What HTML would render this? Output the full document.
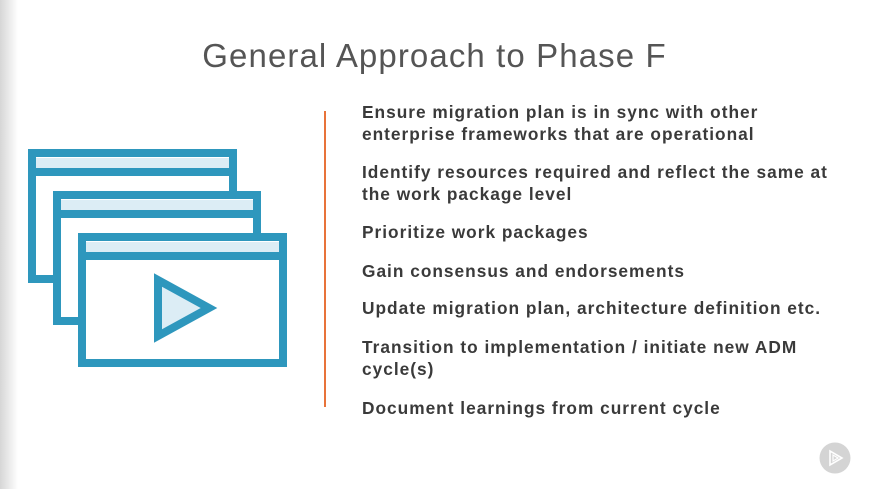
<!DOCTYPE html>
<html><head><style>
body{margin:0;width:869px;height:489px;overflow:hidden;background:#fff;font-family:"Liberation Sans",sans-serif;position:relative}
.sh{position:absolute;left:0;top:0;width:18px;height:489px;background:linear-gradient(to right,#d6d6d6,#fff)}
h1{position:absolute;left:0;width:869px;top:37px;margin:0;text-align:center;font-weight:normal;font-size:33px;color:#555;letter-spacing:1.1px}
.ln{position:absolute;left:324px;top:111px;width:2px;height:296px;background:#e8733a}
.t{position:absolute;left:362px;font-size:17.3px;font-weight:bold;color:#3a3a3a;line-height:22px;letter-spacing:1px;white-space:nowrap}
</style></head><body>
<div class="sh"></div>
<h1>General Approach to Phase F</h1>
<svg style="position:absolute;left:0;top:0" width="300" height="400">
<g fill="#fff" stroke="#2e97bd" stroke-width="8">
<rect x="32" y="153" width="201" height="126"/>
<rect x="57" y="195" width="200" height="126"/>
<rect x="82" y="237" width="201" height="126"/>
</g>
<g fill="#dcedf5">
<rect x="36" y="158" width="193" height="10"/>
<rect x="61" y="200" width="192" height="10"/>
<rect x="86" y="242" width="193" height="10"/>
</g>
<g fill="#2e97bd">
<rect x="36" y="168" width="193" height="8"/>
<rect x="61" y="210" width="192" height="8"/>
<rect x="86" y="252" width="193" height="8"/>
</g>
<polygon points="158,280 158,336 209,308" fill="#dcedf5" stroke="#2e97bd" stroke-width="8" stroke-linejoin="miter"/>
</svg>
<div class="ln"></div>
<div class="t" style="top:101px">Ensure migration plan is in sync with other<br>enterprise frameworks that are operational</div>
<div class="t" style="top:161px">Identify resources required and reflect the same at<br>the work package level</div>
<div class="t" style="top:221px">Prioritize work packages</div>
<div class="t" style="top:260px">Gain consensus and endorsements</div>
<div class="t" style="top:297px">Update migration plan, architecture definition etc.</div>
<div class="t" style="top:336px">Transition to implementation / initiate new ADM<br>cycle(s)</div>
<div class="t" style="top:397px">Document learnings from current cycle</div>
<svg style="position:absolute;left:819px;top:442px" width="32" height="32">
<circle cx="16" cy="16" r="15.5" fill="#d4d4d4"/>
<polygon points="11,9 11,23 23,16" fill="none" stroke="#fff" stroke-width="1.6"/>
<polygon points="14,13 14,19 19,16" fill="none" stroke="#fff" stroke-width="1.2"/>
</svg>
</body></html>
